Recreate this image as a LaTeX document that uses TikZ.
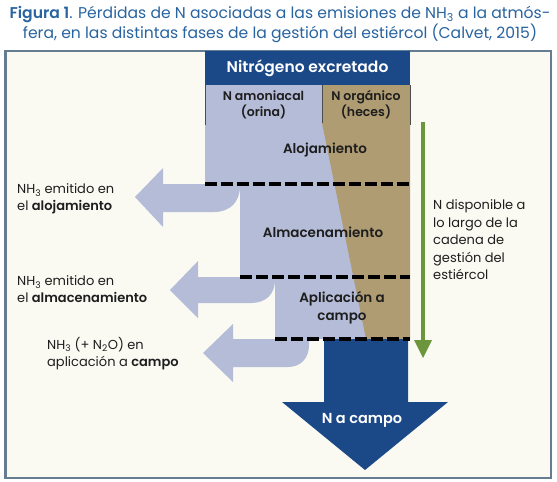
\documentclass[tikz,border=0pt]{standalone}
\usepackage{fontspec}
\setmainfont{Poppins}[BoldFont={Poppins SemiBold}]
\definecolor{ttl}{RGB}{40,100,160}
\definecolor{hdr}{RGB}{27,72,135}
\definecolor{lav}{RGB}{180,188,216}
\definecolor{tan}{RGB}{176,156,114}
\definecolor{grn}{RGB}{108,150,60}
\definecolor{bg}{RGB}{250,250,243}
\definecolor{frm}{RGB}{100,125,145}
\definecolor{txt}{RGB}{30,30,30}
\begin{document}
\begin{tikzpicture}[x=1pt,y=-1pt,
  lbl/.style={font=\fontsize{13}{17}\selectfont, text=txt, align=left, anchor=west, inner sep=0pt},
  boxlbl/.style={font=\fontsize{13.5}{18}\selectfont\bfseries, text=txt, align=center, inner sep=0pt},
  dash line/.style={line width=4.5pt, black, dash pattern=on 12pt off 4pt},
  sep/.style={line width=0.8pt, black!70}]
\path[use as bounding box, fill=white] (0,0) rectangle (557,482);
% title
\node[text=ttl, font=\fontsize{15.6}{18}\selectfont, inner sep=0pt] (t1) at (280,14)
  {\textbf{Figura 1}. Pérdidas de N asociadas a las emisiones de NH\textsubscript{3} a la atmós-};
\node[text=ttl, font=\fontsize{15.6}{18}\selectfont, inner sep=0pt] (t2) at (280,33)
  {fera, en las distintas fases de la gestión del estiércol (Calvet, 2015)};
% frame
\draw[frm, line width=1.2pt, fill=bg] (5,51) rectangle (551,478);
\draw[frm, line width=2.2pt] (5.5,51) -- (5.5,478);
% lavender shapes
\fill[lav] (205,85) rectangle (410,184);
\fill[lav] (240,183) rectangle (410,277);
\fill[lav] (275,276) rectangle (410,339);
\fill[lav] (163,168) -- (135,197) -- (163,227) -- (163,212) -- (214,212)
  .. controls (230,212) and (240,202) .. (240,186) -- (240,184) -- (163,184) -- cycle;
\fill[lav] (198,261) -- (170,290) -- (198,318) -- (198,303) -- (251,303)
  .. controls (266,303) and (275,294) .. (275,280) -- (275,277) -- (198,277) -- cycle;
\fill[lav] (233,324) -- (203,353) -- (233,382) -- (233,367) -- (288,367)
  .. controls (301,367) and (309,358) .. (309,345) -- (309,339) -- (233,339) -- cycle;
% tan
\fill[tan] (322,85) -- (410,85) -- (410,339) -- (366,339) -- (322,123) -- cycle;
% header row separators
\draw[sep] (205,85) -- (205,125);
\draw[sep] (322,85) -- (322,123);
\draw[sep] (410,85) -- (410,125);
% blue arrow
\fill[hdr] (324,339) -- (408,339) -- (408,402) -- (448,402) -- (365,470) -- (282,402) -- (324,402) -- cycle;
% dashed lines
\draw[dash line] (205,184) -- (410,184);
\draw[dash line] (240,277) -- (410,277);
\draw[dash line] (275,339) -- (410,339);
% header
\fill[hdr] (205,51) rectangle (410,85);
\node[font=\fontsize{15.5}{18}\selectfont\bfseries, text=white, inner sep=0pt] (hd) at (307.5,68) {Nitrógeno excretado};
\node[boxlbl, font=\fontsize{12.5}{16}\selectfont\bfseries] (amo) at (263.5,105) {N amoniacal\\(orina)};
\node[boxlbl, font=\fontsize{12.5}{16}\selectfont\bfseries] (org) at (366,105) {N orgánico\\(heces)};
\node[boxlbl] (alo) at (325,150) {Alojamiento};
\node[boxlbl] (alm) at (323,232) {Almacenamiento};
\node[boxlbl] (apl) at (342,307.5) {Aplicación a\\campo};
\node[font=\fontsize{14.5}{16}\selectfont\bfseries, text=white, inner sep=0pt] (nac) at (362,420) {N a campo};
% green arrow
\coordinate (g1) at (423,122);
\coordinate (g2) at (423,358);
\draw[grn, line width=4pt] (g1) -- (423,342);
\fill[grn] (414,340) -- (432,340) -- (g2) -- cycle;
\node[lbl, font=\fontsize{13}{17.5}\selectfont] (nd) at (433,240) {N disponible a\\lo largo de la\\cadena de\\gestión del\\estiércol};
% left labels
\node[lbl] (l1) at (17,199) {NH\textsubscript{3} emitido en\\el \textbf{alojamiento}};
\node[lbl] (l2) at (17,289.5) {NH\textsubscript{3} emitido en\\el \textbf{almacenamiento}};
\node[lbl] (l3) at (47,353.5) {NH\textsubscript{3} (+ N\textsubscript{2}O) en\\aplicación a \textbf{campo}};
\end{tikzpicture}
\end{document}
